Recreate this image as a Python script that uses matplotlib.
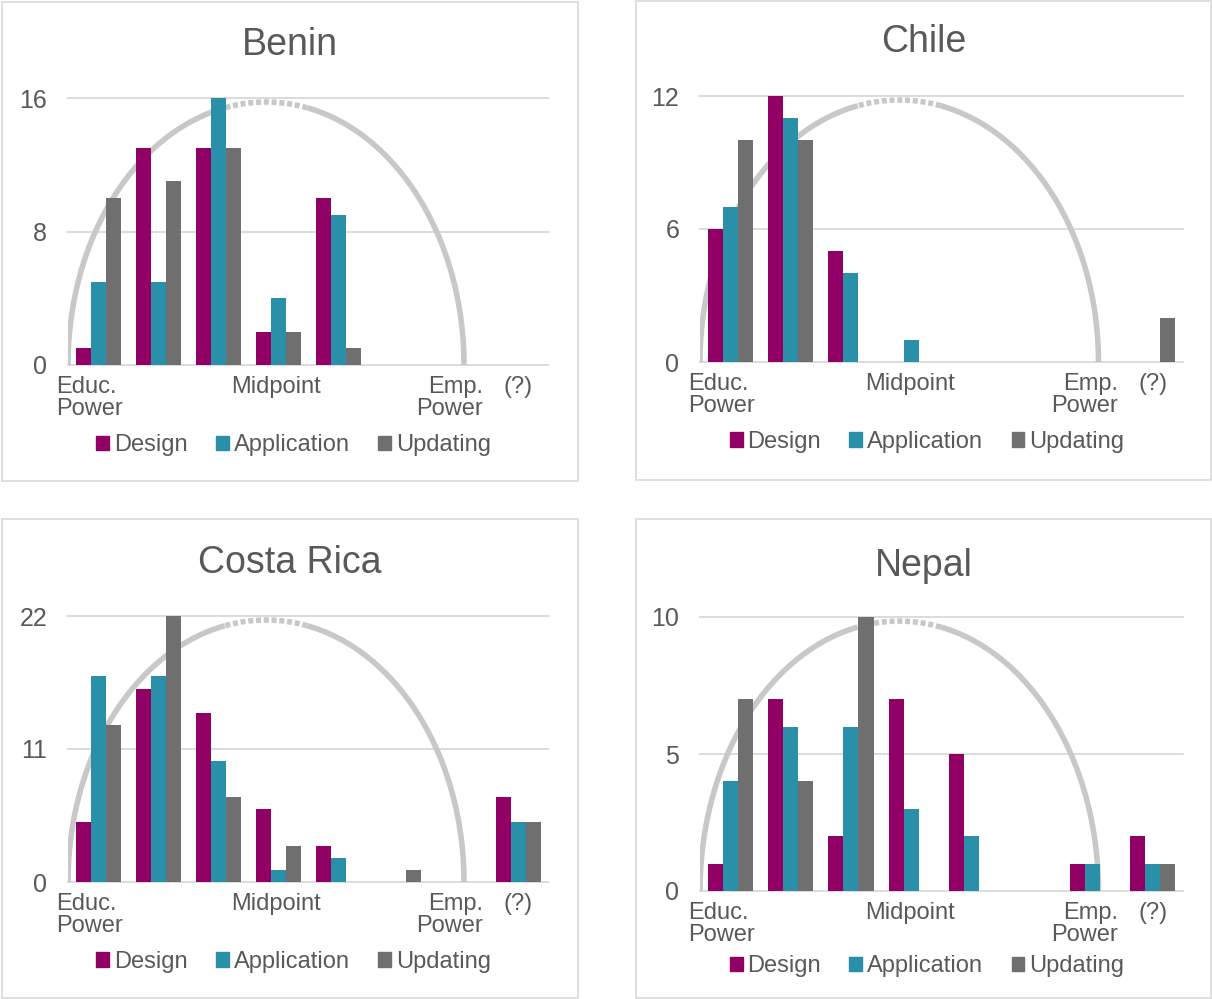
import numpy as np
import matplotlib
matplotlib.use('Agg')
import matplotlib.pyplot as plt
from matplotlib.patches import Rectangle, Patch

plt.rcParams['font.family'] = ['Liberation Sans', 'DejaVu Sans']

W, H = 1212, 999

# data
categories = ['Educ.\nPower', '', '', 'Midpoint', '', '', 'Emp.\nPower', '(?)']
series = ['Design', 'Application', 'Updating']
colors = ['#910064', '#2A8FA8', '#6F6F6F']

benin_design = [1, 13, 13, 2, 10, 0, 0, 0]
benin_application = [5, 5, 16, 4, 9, 0, 0, 0]
benin_updating = [10, 11, 13, 2, 1, 0, 0, 0]

chile_design = [6, 12, 5, 0, 0, 0, 0, 0]
chile_application = [7, 11, 4, 1, 0, 0, 0, 0]
chile_updating = [10, 10, 0, 0, 0, 0, 0, 2]

costa_design = [5, 16, 14, 6, 3, 0, 0, 7]
costa_application = [17, 17, 10, 1, 2, 0, 0, 5]
costa_updating = [13, 22, 7, 3, 0, 1, 0, 5]

nepal_design = [1, 7, 2, 7, 5, 0, 1, 2]
nepal_application = [4, 6, 6, 3, 2, 0, 1, 1]
nepal_updating = [7, 4, 10, 0, 0, 0, 0, 1]

panels = [
    ('Benin', 16, [benin_design, benin_application, benin_updating]),
    ('Chile', 12, [chile_design, chile_application, chile_updating]),
    ('Costa Rica', 22, [costa_design, costa_application, costa_updating]),
    ('Nepal', 10, [nepal_design, nepal_application, nepal_updating]),
]

# layout in pixels: axes (left, right, top, bottom), title (x, y), box (x0, y0, x1, y1)
layout = [
    dict(ax=(68, 548, 98, 365), title=(290, 45), box=(2, 2, 578, 481), leg=-0.30),
    dict(ax=(700, 1183, 96, 362), title=(924, 42), box=(636, 1, 1211, 480), leg=-0.30),
    dict(ax=(68, 548, 616, 882), title=(290, 563), box=(2, 519, 578, 998), leg=-0.30),
    dict(ax=(700, 1183, 617, 891), title=(924, 566), box=(636, 519, 1211, 998), leg=-0.275),
]

text_col = '#595959'
grid_col = '#D9D9D9'
fs = 17

fig = plt.figure(figsize=(W / 100, H / 100), dpi=100)

for (name, ymax, vals), lay in zip(panels, layout):
    bx0, by0, bx1, by1 = lay['box']
    fig.patches.append(Rectangle((bx0 / W, 1 - by1 / H), (bx1 - bx0) / W, (by1 - by0) / H,
                                 transform=fig.transFigure, fill=False,
                                 edgecolor=grid_col, lw=1.2))
    l, r, t, b = lay['ax']
    ax = fig.add_axes([l / W, 1 - b / H, (r - l) / W, (b - t) / H])
    x = np.arange(len(categories))
    for k in range(3):
        ax.bar(x + (k - 1) * 0.25, vals[k], width=0.25, color=colors[k],
               linewidth=0, zorder=3, label=series[k])

    # decorative half ellipse
    cx, a, bb = 2.8, 3.3, ymax * 0.985
    lw = 4.0
    for t0, t1, ls in [(0, 78, '-'), (78, 102, (0, (0.9, 0.5))), (102, 180, '-')]:
        tt = np.radians(np.linspace(t0, t1, 200))
        ax.plot(cx + a * np.cos(tt), bb * np.sin(tt), color='#C8C8C8', lw=lw,
                ls=ls, solid_capstyle='butt', dash_capstyle='butt', zorder=2)

    ax.set_xlim(-0.5, 7.5)
    ax.set_ylim(0, ymax)
    ticks = [0, ymax // 2, ymax]
    ax.set_yticks(ticks)
    ax.set_yticklabels([str(v) for v in ticks])
    for v in ticks:
        ax.axhline(v, color=grid_col, lw=1.3, zorder=1, clip_on=False)
    ax.set_xticks([])
    for s in ax.spines.values():
        s.set_visible(False)
    ax.tick_params(axis='y', length=0, pad=15, labelsize=18, labelcolor=text_col)

    # category labels
    label_pos = {0: (-0.7, 'left'), 3: (2.97, 'center'), 6: (6.42, 'right'), 7: (7.0, 'center')}
    for i, lab in enumerate(categories):
        if not lab:
            continue
        xp, ha = label_pos[i]
        ax.annotate(lab, xy=(xp, 0), xycoords=('data', 'axes fraction'),
                    xytext=(0, -8), textcoords='offset points', ha=ha, va='top',
                    multialignment=ha, fontsize=fs, color=text_col, linespacing=1.02,
                    annotation_clip=False)

    handles = [Patch(color=c) for c in colors]
    ax.legend(handles, series, loc='center', bbox_to_anchor=(0.47, lay['leg']),
              ncol=3, frameon=False, fontsize=fs, handlelength=0.55, handleheight=0.55,
              handletextpad=0.2, columnspacing=1.2, labelcolor=text_col)

    fig.text(lay['title'][0] / W, 1 - lay['title'][1] / H, name, ha='center', va='center',
             fontsize=27, color=text_col)

fig.savefig('out.png', dpi=100)
